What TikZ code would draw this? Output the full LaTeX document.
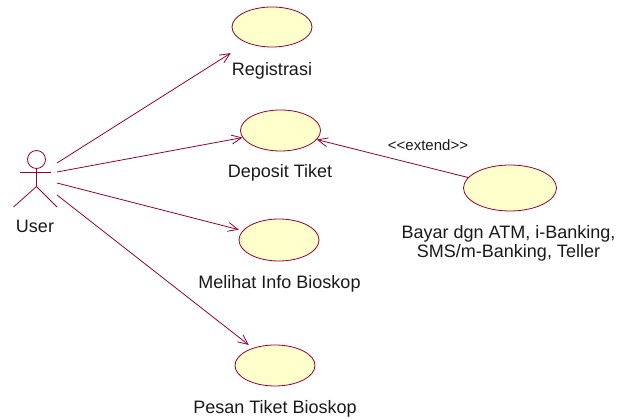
\documentclass[tikz,border=0pt]{standalone}
\usepackage{fontspec}
\setmainfont{Liberation Sans}
\usetikzlibrary{arrows.meta,shapes.geometric}
\definecolor{umlline}{RGB}{153,0,51}
\definecolor{umlfill}{RGB}{255,255,204}
\begin{document}
\begin{tikzpicture}[x=1pt,y=-1pt,
  usecase/.style={ellipse,draw=umlline,fill=umlfill,line width=0.8pt,minimum width=80pt,minimum height=40pt,inner sep=0pt},
  lbl/.style={anchor=base,inner sep=0pt,font=\fontsize{18}{19}\selectfont,text=black!90},
  assoc/.style={draw=umlline,line width=0.8pt,-{Straight Barb[length=10pt,width=9pt,line width=0.8pt]}},
  actorline/.style={draw=umlline,line width=0.8pt}]
\useasboundingbox (0,0) rectangle (625,419);
% actor
\node[circle,draw=umlline,line width=0.8pt,minimum size=18pt,inner sep=0pt] (head) at (36.5,159.5) {};
\coordinate (neck) at (36.5,168.5);
\coordinate (hip) at (36.5,186.5);
\coordinate (armL) at (20,172);
\coordinate (armR) at (51,172);
\coordinate (legL) at (13.5,207);
\coordinate (legR) at (57,207);
\draw[actorline] (head.south) -- (hip);
\draw[actorline] (armL) -- (armR);
\draw[actorline] (legL) -- (hip) -- (legR);
\node[lbl] (user) at (35,232.5) {User};
\coordinate (u1) at (57,163);
\coordinate (u2) at (57,172);
\coordinate (u3) at (57,183);
\coordinate (u4) at (57,195);
% use cases
\node[usecase] (reg) at (272,27) {};
\node[lbl] (regl) at (272,75.5) {Registrasi};
\node[usecase,minimum height=41pt] (dep) at (280.5,130.5) {};
\node[lbl] (depl) at (280,178) {Deposit Tiket};
\node[usecase,minimum height=42pt] (inf) at (279,240) {};
\node[lbl] (infl) at (279.5,288.5) {Melihat Info Bioskop};
\node[usecase,minimum height=41pt] (pes) at (275,365.5) {};
\node[lbl] (pesl) at (275,413.5) {Pesan Tiket Bioskop};
\node[usecase,minimum width=93pt,minimum height=46pt] (bay) at (510,188) {};
\node[lbl,align=center,anchor=north] (bayl) at (508.5,225.5) {Bayar dgn ATM, i-Banking,\\[-0.5pt]SMS/m-Banking, Teller};
% associations
\draw[assoc,shorten >=19pt] (u1) -- (reg);
\draw[assoc] (u2) -- (dep);
\draw[assoc,shorten >=4pt] (u3) -- (inf);
\draw[assoc,shorten >=5pt] (u4) -- (pes);
% extend
\draw[assoc] (bay) -- (dep);
\node[anchor=base,inner sep=0pt,font=\fontsize{15}{17}\selectfont,text=black!90] (ext) at (428,151) {<{}<extend>{}>};
\end{tikzpicture}
\end{document}
